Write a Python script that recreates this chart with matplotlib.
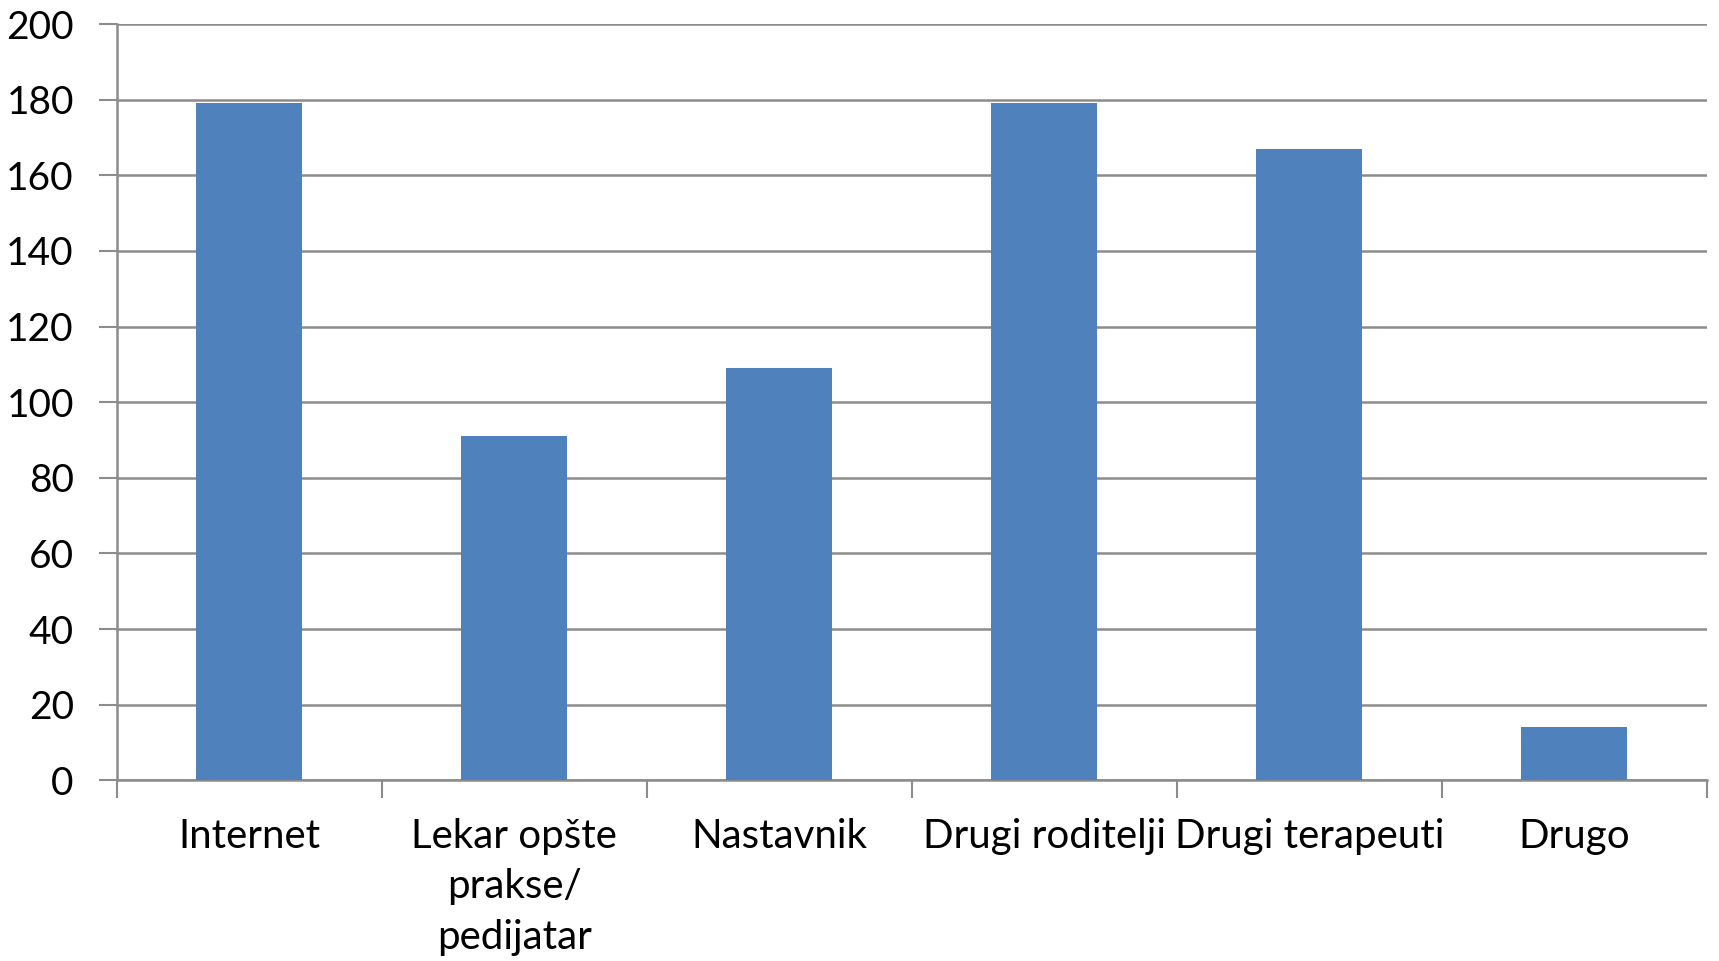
import matplotlib
matplotlib.use("Agg")
import matplotlib.pyplot as plt
import numpy as np

categories = ["Internet", "Lekar opšte\nprakse/\npedijatar", "Nastavnik",
              "Drugi roditelji", "Drugi terapeuti", "Drugo"]
values = [179, 91, 109, 179, 167, 14]
y_ticks = [0, 20, 40, 60, 80, 100, 120, 140, 160, 180, 200]

BAR = "#4F81BD"
GRID = "#8C8C8C"

plt.rcParams["font.family"] = ["Lato", "DejaVu Sans"]

fig = plt.figure(figsize=(17.19, 9.61), dpi=100)
ax = fig.add_axes([0.068, 0.188, 0.925, 0.787])

x = np.arange(len(categories))
ax.bar(x, values, width=0.4, color=BAR, zorder=3)

ax.set_xlim(-0.5, len(categories) - 0.5)
ax.set_ylim(0, 200)
ax.set_yticks(y_ticks)
ax.yaxis.grid(True, color=GRID, linewidth=1.8, zorder=0)

ax.set_xticks(x)
ax.set_xticklabels(categories, linespacing=1.45)
ax.set_xticks(np.arange(len(categories) + 1) - 0.5, minor=True)
ax.tick_params(axis="x", which="major", length=0, pad=27, labelsize=29)
ax.tick_params(axis="x", which="minor", length=13, width=1.5, color=GRID)
ax.tick_params(axis="y", length=13, width=1.5, color=GRID, labelsize=28, pad=18)

for side in ("top", "right"):
    ax.spines[side].set_visible(False)
for side in ("left", "bottom"):
    ax.spines[side].set_color(GRID)
    ax.spines[side].set_linewidth(1.8)

fig.savefig("out.png", dpi=100)
